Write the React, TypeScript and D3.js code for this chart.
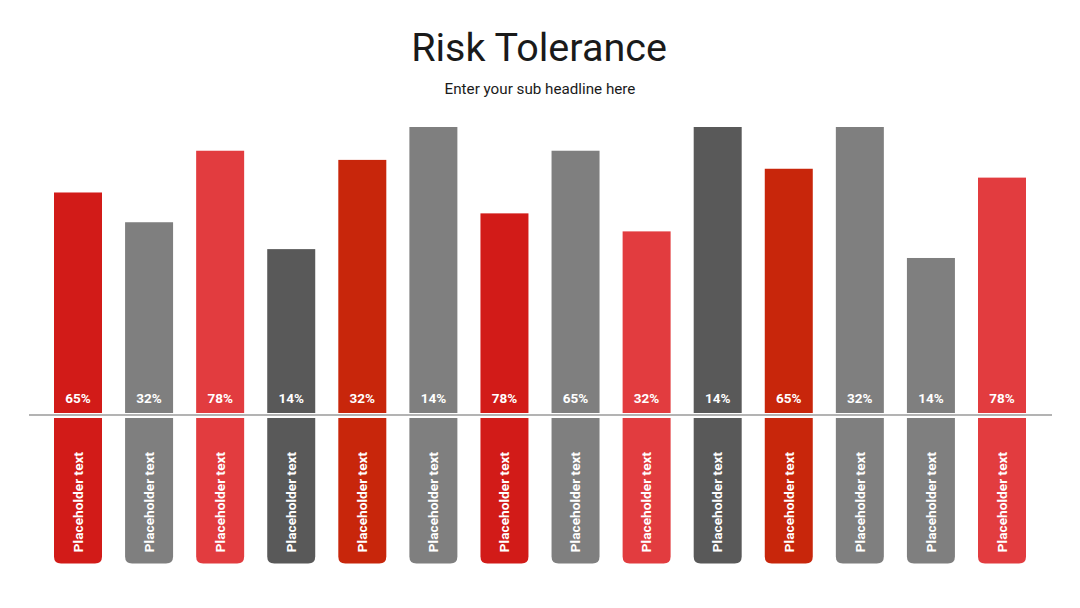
import React from "react";
import * as d3 from "d3";

const categories = Array.from({ length: 14 }, (_, i) => `C${i + 1}`);
const barValues = [77.1, 66.7, 91.7, 57.3, 88.5, 100, 69.8, 91.7, 63.5, 100, 85.4, 100, 54.2, 82.3];
const percentLabels = ["65%", "32%", "78%", "14%", "32%", "14%", "78%", "65%", "32%", "14%", "65%", "32%", "14%", "78%"];
const bottomLabels = Array.from({ length: 14 }, () => "Placeholder text");
const colorKeys = ["red", "gray", "light", "dark", "orange", "gray", "red", "gray", "light", "dark", "orange", "gray", "gray", "light"];

const palette: Record<string, string> = {
  red: "#d21b18",
  gray: "#7f7f7f",
  light: "#e23c3f",
  dark: "#595959",
  orange: "#c8260b",
};

const W = 1080;
const H = 608;

export default function App() {
  const x = d3.scaleBand<string>().domain(categories).range([54, 1026]).paddingInner(0.3247).paddingOuter(0);
  const y = d3.scaleLinear().domain([0, 100]).range([413, 127]);
  const lowerTop = 418;
  const lowerBottom = 563.5;
  const r = 7;
  const bw = x.bandwidth();

  const lowerPath = (x0: number) => {
    const p = d3.path();
    p.moveTo(x0, lowerTop);
    p.lineTo(x0 + bw, lowerTop);
    p.lineTo(x0 + bw, lowerBottom - r);
    p.quadraticCurveTo(x0 + bw, lowerBottom, x0 + bw - r, lowerBottom);
    p.lineTo(x0 + r, lowerBottom);
    p.quadraticCurveTo(x0, lowerBottom, x0, lowerBottom - r);
    p.closePath();
    return p.toString();
  };

  return (
    <svg width={W} height={H} style={{ position: "absolute", left: 0, top: 0, fontFamily: "Roboto, sans-serif" }}>
      <rect width={W} height={H} fill="#ffffff" />
      <text x={539} y={61} textAnchor="middle" fontSize={39.5} fill="#1a1a1a">Risk Tolerance</text>
      <text x={540} y={94} textAnchor="middle" fontSize={15.2} fill="#1a1a1a">Enter your sub headline here</text>
      {categories.map((c, i) => {
        const x0 = x(c)!;
        const cx = x0 + bw / 2;
        const fill = palette[colorKeys[i]];
        return (
          <g key={c}>
            <rect x={x0} y={y(barValues[i])} width={bw} height={y(0) - y(barValues[i])} fill={fill} />
            <text x={cx} y={402.5} textAnchor="middle" fontSize={13.5} fontWeight={700} fill="#ffffff">{percentLabels[i]}</text>
            <path d={lowerPath(x0)} fill={fill} />
            <text
              transform={`translate(${cx + 4.8},${502}) rotate(-90)`}
              textAnchor="middle"
              fontSize={13.7}
              fontWeight={700}
              fill="#ffffff"
            >
              {bottomLabels[i]}
            </text>
          </g>
        );
      })}
      <line x1={29} x2={1052} y1={415} y2={415} stroke="#9a9a9a" strokeWidth={1.5} />
    </svg>
  );
}
